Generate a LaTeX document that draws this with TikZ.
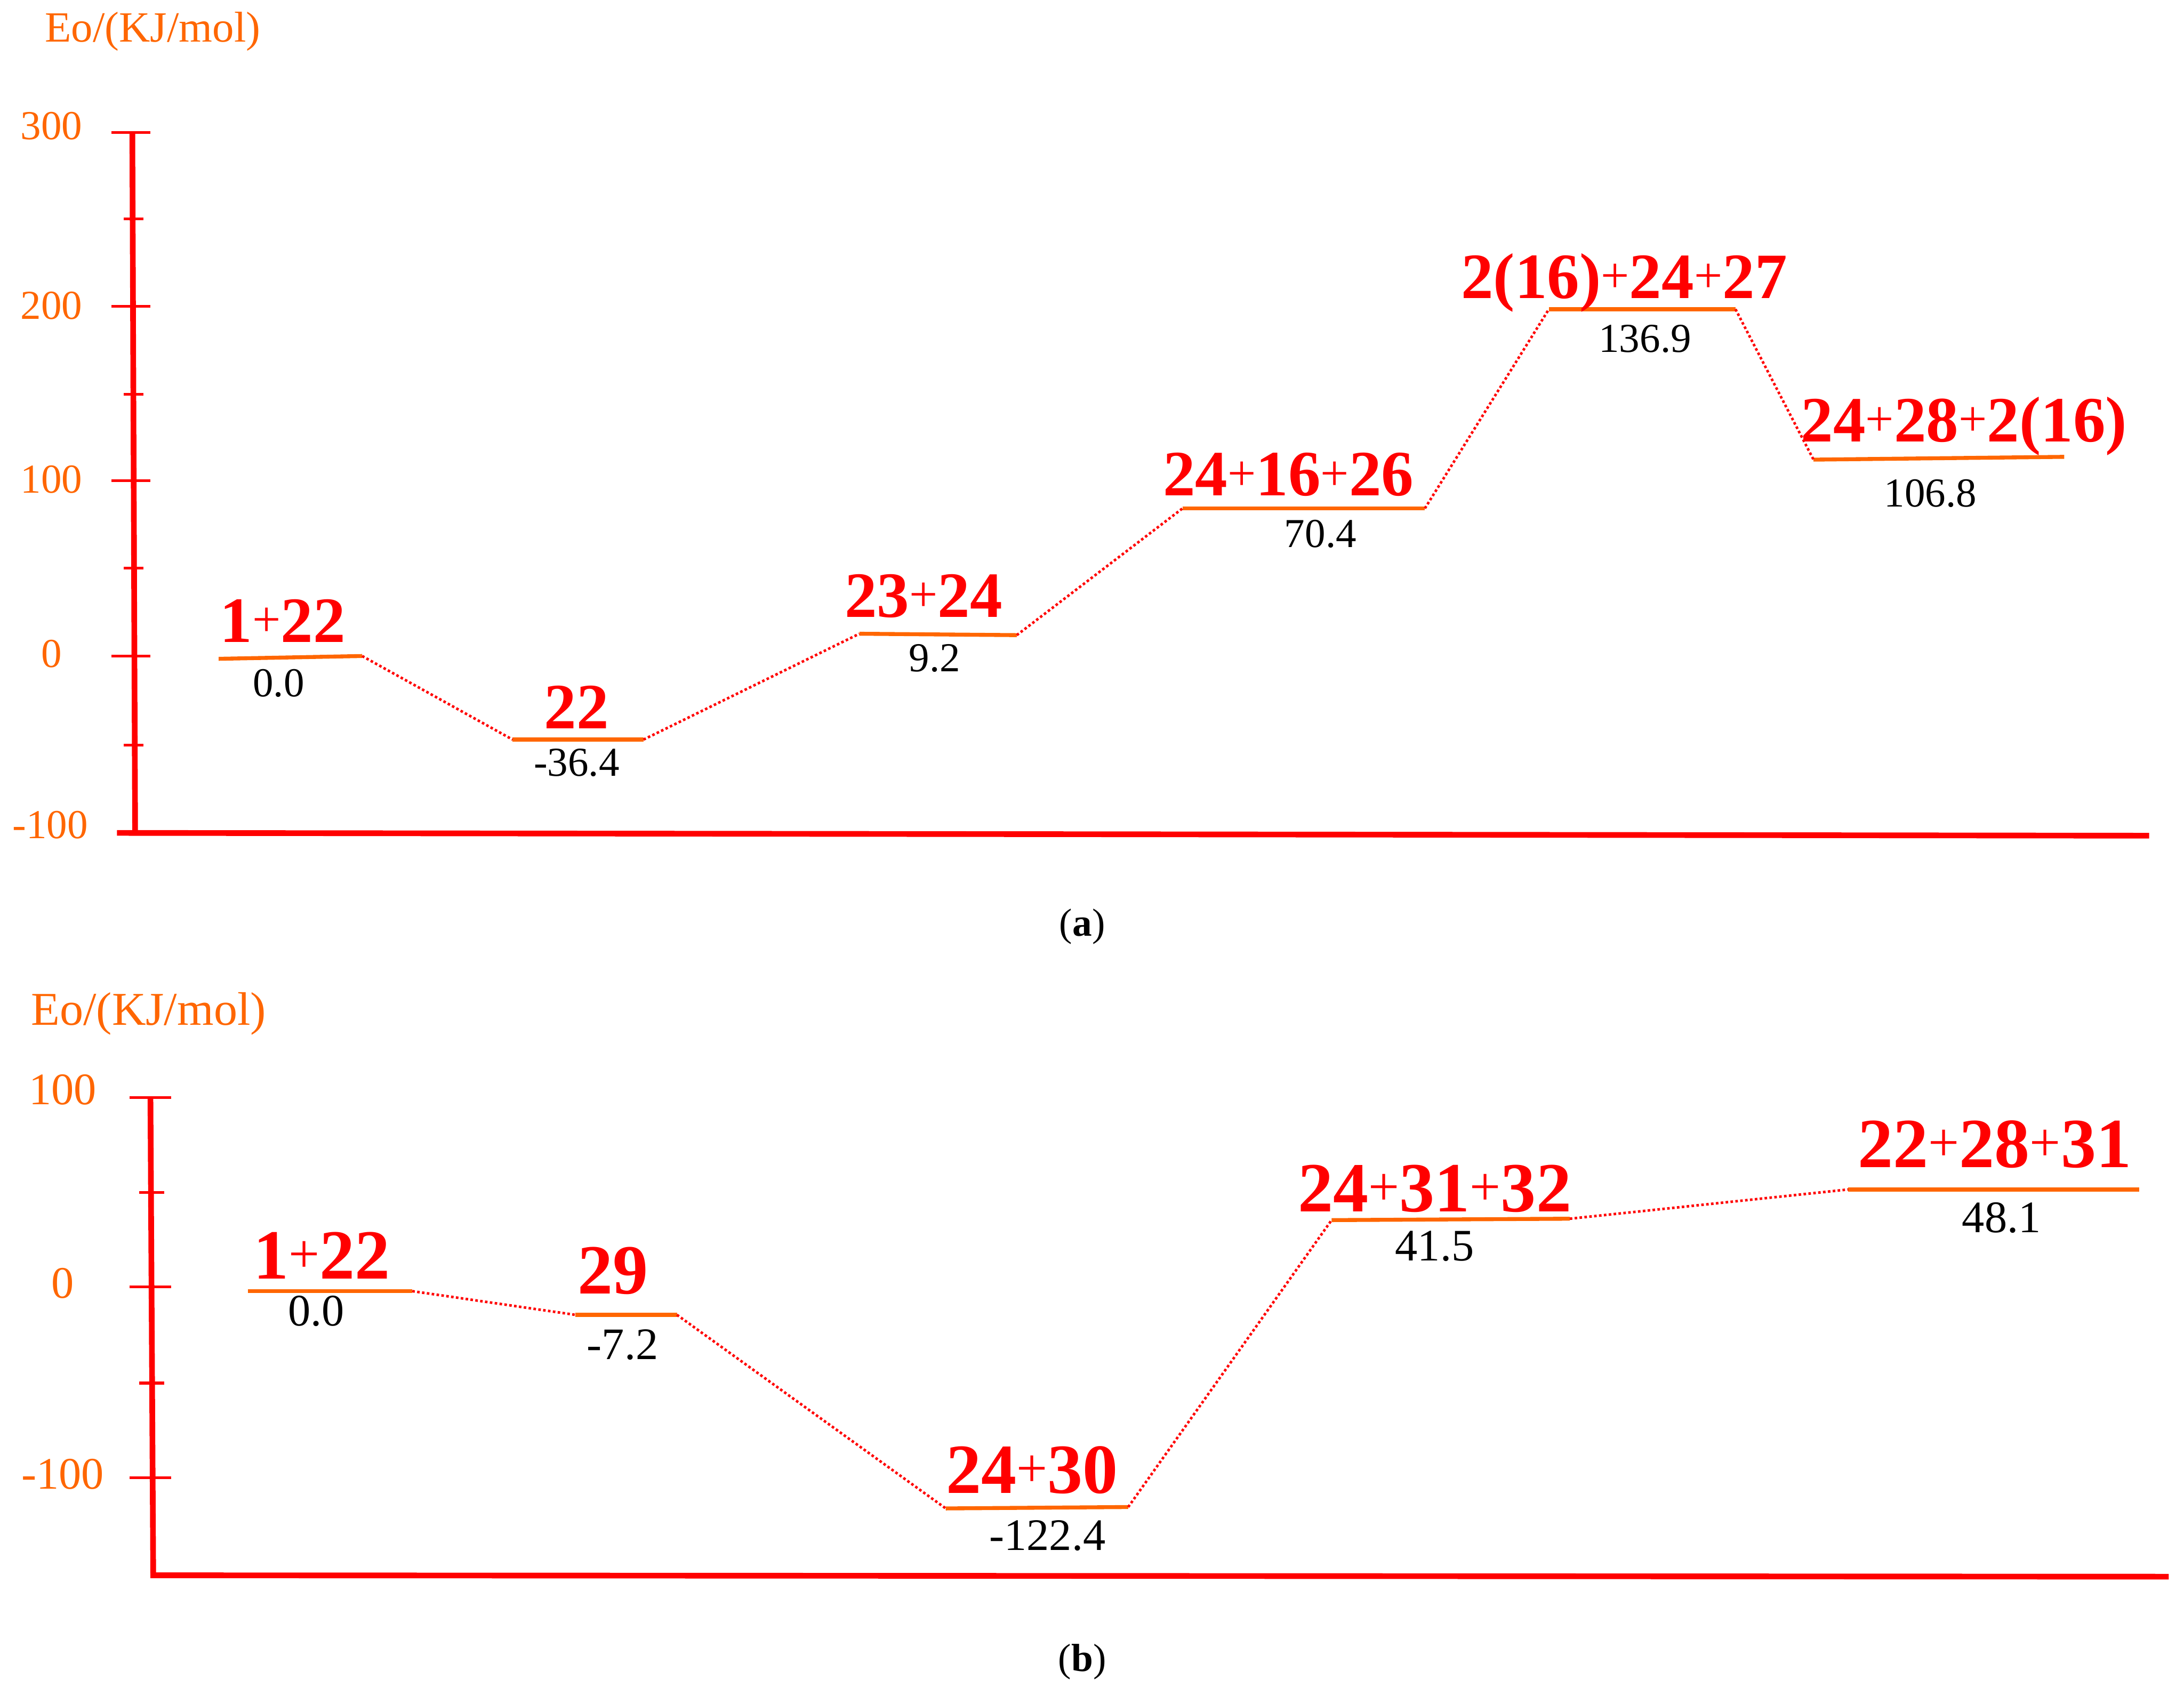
\documentclass[tikz,border=0pt]{standalone}
\usepackage{fontspec}
\setmainfont{Liberation Serif}
\usetikzlibrary{positioning, calc}
\definecolor{axred}{RGB}{255,0,0}
\definecolor{lvorange}{RGB}{255,102,0}
% small regular plus sign between species numbers
\newcommand{\pls}{\raisebox{0.09em}{\scalebox{0.78}{\mdseries+}}}

\begin{document}
\begin{tikzpicture}[x=0.025cm, y=-0.025cm,
    axis/.style={draw=axred, line width=2.9pt},
    tick/.style={draw=axred, line width=1.4pt},
    level/.style={draw=lvorange, line width=2pt},
    link/.style={draw=axred, line width=1.3pt, dash pattern=on 1.3pt off 1.2pt},
    spec/.style={text=axred, font=\fontsize{33}{33}\selectfont\bfseries, inner sep=0pt, anchor=base},
    specb/.style={spec, font=\fontsize{36}{36}\selectfont\bfseries},
    val/.style={font=\fontsize{21}{21}\selectfont, inner sep=0pt, anchor=base},
    valb/.style={val, font=\fontsize{23}{23}\selectfont},
    ylab/.style={text=lvorange, font=\fontsize{21}{21}\selectfont, inner sep=0pt, anchor=base},
    ylabb/.style={ylab, font=\fontsize{23}{23}\selectfont},
    subcap/.style={font=\fontsize{20}{20}\selectfont, inner sep=0pt, anchor=base}
]
    \useasboundingbox (0,0) rectangle (1568,1211);

    % ---------------- panel (a) ----------------
    \node[ylab, anchor=base west, font=\fontsize{22}{22}\selectfont] (ta) at (32,30) {Eo/(KJ/mol)};
    \draw[axis] (95,95) -- (97,597);
    \draw[axis] (84,598) -- (1543,600);
    \foreach \yy in {95, 220, 345, 471} {
        \draw[tick] (80,\yy) -- (108,\yy);
    }
    \foreach \yy in {157, 283, 408, 535} {
        \draw[tick] (89,\yy) -- (103,\yy);
    }
    \node[ylab] (a300) at (37,100) {300};
    \node[ylab] (a200) at (37,229) {200};
    \node[ylab] (a100) at (37,354) {100};
    \node[ylab] (a0) at (37,479) {0};
    \node[ylab] (am100) at (36,602) {-100};

    \coordinate (a1l) at (157,473); \coordinate (a1r) at (260,471);
    \coordinate (a2l) at (368,531); \coordinate (a2r) at (462,531);
    \coordinate (a3l) at (617,455); \coordinate (a3r) at (730,456);
    \coordinate (a4l) at (849,365); \coordinate (a4r) at (1023,365);
    \coordinate (a5l) at (1112,222); \coordinate (a5r) at (1246,222);
    \coordinate (a6l) at (1302,330); \coordinate (a6r) at (1482,328);
    \foreach \i in {1,...,6} {
        \draw[level] (a\i l) -- (a\i r);
    }
    \draw[link] (a1r) -- (a2l);
    \draw[link] (a2r) -- (a3l);
    \draw[link] (a3r) -- (a4l);
    \draw[link] (a4r) -- (a5l);
    \draw[link] (a5r) -- (a6l);

    \node[spec] (s1) at (203,461) {1\pls22};
    \node[spec] (s2) at (414,523) {22};
    \node[spec] (s3) at (663,443) {23\pls24};
    \node[spec] (s4) at (925,356) {24\pls16\pls26};
    \node[spec] (s5) at (1166,214) {2(16)\pls24\pls27};
    \node[spec] (s6) at (1410,317) {24\pls28\pls2(16)};
    \node[val] (e1) at (200,500) {0.0};
    \node[val] (e2) at (414,557) {-36.4};
    \node[val] (e3) at (671,482) {9.2};
    \node[val] (e4) at (948,393) {70.4};
    \node[val] (e5) at (1181,253) {136.9};
    \node[val] (e6) at (1386,364) {106.8};

    \node[subcap] (capa) at (777,672) {(\textbf{a})};

    % ---------------- panel (b) ----------------
    \node[ylabb, anchor=base west, font=\fontsize{24}{24}\selectfont] (tb) at (22,736) {Eo/(KJ/mol)};
    \draw[axis] (108,788) -- (110,1131);
    \draw[axis] (108,1131) -- (1557,1132);
    \foreach \yy in {788, 924, 1061} {
        \draw[tick] (93,\yy) -- (123,\yy);
    }
    \foreach \yy in {856, 993} {
        \draw[tick] (100,\yy) -- (118,\yy);
    }
    \node[ylabb] (b100) at (45,793) {100};
    \node[ylabb] (b0) at (45,932) {0};
    \node[ylabb] (bm100) at (45,1069) {-100};

    \coordinate (b1l) at (178,927); \coordinate (b1r) at (296,927);
    \coordinate (b2l) at (413,944); \coordinate (b2r) at (486,944);
    \coordinate (b3l) at (679,1083); \coordinate (b3r) at (810,1082);
    \coordinate (b4l) at (956,876); \coordinate (b4r) at (1127,875);
    \coordinate (b5l) at (1327,854); \coordinate (b5r) at (1536,854);
    \foreach \i in {1,...,5} {
        \draw[level] (b\i l) -- (b\i r);
    }
    \draw[link] (b1r) -- (b2l);
    \draw[link] (b2r) -- (b3l);
    \draw[link] (b3r) -- (b4l);
    \draw[link] (b4r) -- (b5l);

    \node[specb] (p1) at (231,918) {1\pls22};
    \node[specb] (p2) at (440,929) {29};
    \node[specb] (p3) at (741,1072) {24\pls30};
    \node[specb] (p4) at (1030,870) {24\pls31\pls32};
    \node[specb] (p5) at (1432,838) {22\pls28\pls31};
    \node[valb] (f1) at (227,952) {0.0};
    \node[valb] (f2) at (447,976) {-7.2};
    \node[valb] (f3) at (752,1113) {-122.4};
    \node[valb] (f4) at (1030,905) {41.5};
    \node[valb] (f5) at (1437,885) {48.1};

    \node[subcap] (capb) at (777,1200) {(\textbf{b})};
\end{tikzpicture}
\end{document}
